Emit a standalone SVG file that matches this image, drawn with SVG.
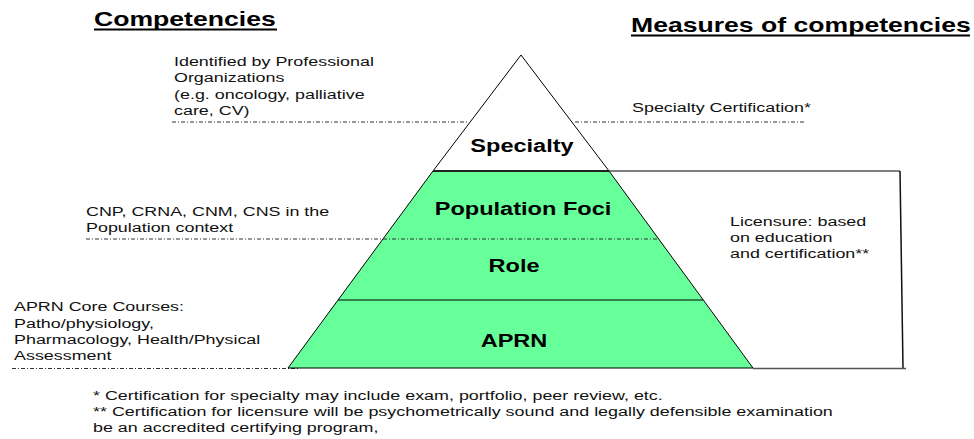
<svg xmlns="http://www.w3.org/2000/svg" width="974" height="439" viewBox="0 0 974 439">
<style>
.hdr{font-family:"Liberation Sans",Arial,sans-serif;font-weight:bold;font-size:20px;fill:#000}
.lbl{font-family:"Liberation Sans",Arial,sans-serif;font-weight:bold;font-size:19px;fill:#000;text-anchor:middle}
.txt{font-family:"Liberation Sans",Arial,sans-serif;font-size:13.5px;fill:#111}
.band{fill:#66FF99;stroke:none}
.edge{fill:none;stroke:#000;stroke-width:1}
.dash{fill:none;stroke:#333;stroke-width:1;stroke-dasharray:4 2 1 2}
.brk{fill:none;stroke:#555;stroke-width:1.5}
</style>
<rect width="974" height="439" fill="#fff"/>

<g id="headers">
  <text class="hdr" transform="translate(94,26) scale(1.33,1)">Competencies</text>
  <rect x="94" y="28.5" width="183" height="2" fill="#000"/>
  <text class="hdr" transform="translate(631,32) scale(1.33,1)">Measures of competencies</text>
  <rect x="631" y="34.5" width="339" height="2" fill="#000"/>
</g>

<g id="connectors">
  <line class="dash" x1="172" y1="122" x2="467" y2="122"/>
  <line class="dash" x1="575" y1="122" x2="806" y2="122"/>
  <line class="dash" x1="86" y1="239" x2="383" y2="239"/>
  <line class="dash" x1="12" y1="368.5" x2="300" y2="368.5"/>
  <polyline class="brk" points="609,171 900,171"/>
  <line x1="900" y1="171" x2="903" y2="368" stroke="#111" stroke-width="1.5"/>
  <polyline class="brk" points="753,368.5 906,368.5"/>
</g>

<g id="specialty">
  <polygon points="521,55 433,171 609,171" fill="#fff" stroke="#000" stroke-width="1"/>
  <text class="lbl" transform="translate(522,152) scale(1.24,1)">Specialty</text>
</g>

<g id="population-foci">
  <polygon class="band" points="433,171 609,171 658.7,239 383,239"/>
  <text class="lbl" transform="translate(523,215) scale(1.24,1)">Population Foci</text>
</g>

<g id="role">
  <polygon class="band" points="383,239 658.7,239 703,300 338,300"/>
  <text class="lbl" transform="translate(514,272) scale(1.24,1)">Role</text>
</g>

<g id="aprn">
  <polygon class="band" points="338,300 703,300 753,368 288,368"/>
  <text class="lbl" transform="translate(514,347) scale(1.24,1)">APRN</text>
</g>

<g id="pyramid-outline">
  <polygon class="edge" points="433,171 609,171 753,368 288,368"/>
  <line x1="433" y1="171" x2="609" y2="171" stroke="#222" stroke-width="2"/>
  <line class="edge" x1="338" y1="300" x2="703" y2="300"/>
  <line class="dash" x1="383" y1="239" x2="658.7" y2="239"/>
</g>

<g id="competency-labels">
  <text class="txt" transform="translate(174,66) scale(1.326,1)">Identified by Professional</text>
  <text class="txt" transform="translate(174,82) scale(1.326,1)">Organizations</text>
  <text class="txt" transform="translate(174,98.5) scale(1.326,1)">(e.g. oncology, palliative</text>
  <text class="txt" transform="translate(174,115) scale(1.326,1)">care, CV)</text>
  <text class="txt" transform="translate(86,216) scale(1.326,1)">CNP, CRNA, CNM, CNS in the</text>
  <text class="txt" transform="translate(86,232) scale(1.326,1)">Population context</text>
  <text class="txt" transform="translate(14,311) scale(1.326,1)">APRN Core Courses:</text>
  <text class="txt" transform="translate(14,328) scale(1.326,1)">Patho/physiology,</text>
  <text class="txt" transform="translate(14,344) scale(1.326,1)">Pharmacology, Health/Physical</text>
  <text class="txt" transform="translate(14,360) scale(1.326,1)">Assessment</text>
</g>

<g id="measure-labels">
  <text class="txt" transform="translate(632,112) scale(1.326,1)">Specialty Certification*</text>
  <text class="txt" transform="translate(730,226) scale(1.326,1)">Licensure: based</text>
  <text class="txt" transform="translate(730,242) scale(1.326,1)">on education</text>
  <text class="txt" transform="translate(730,258) scale(1.326,1)">and certification**</text>
</g>

<g id="footnotes">
  <text class="txt" transform="translate(93,400) scale(1.326,1)">* Certification for specialty may include exam, portfolio, peer review, etc.</text>
  <text class="txt" transform="translate(93,416) scale(1.326,1)">** Certification for licensure will be psychometrically sound and legally defensible examination</text>
  <text class="txt" transform="translate(93,432) scale(1.326,1)">be an accredited certifying program,</text>
</g>
</svg>
